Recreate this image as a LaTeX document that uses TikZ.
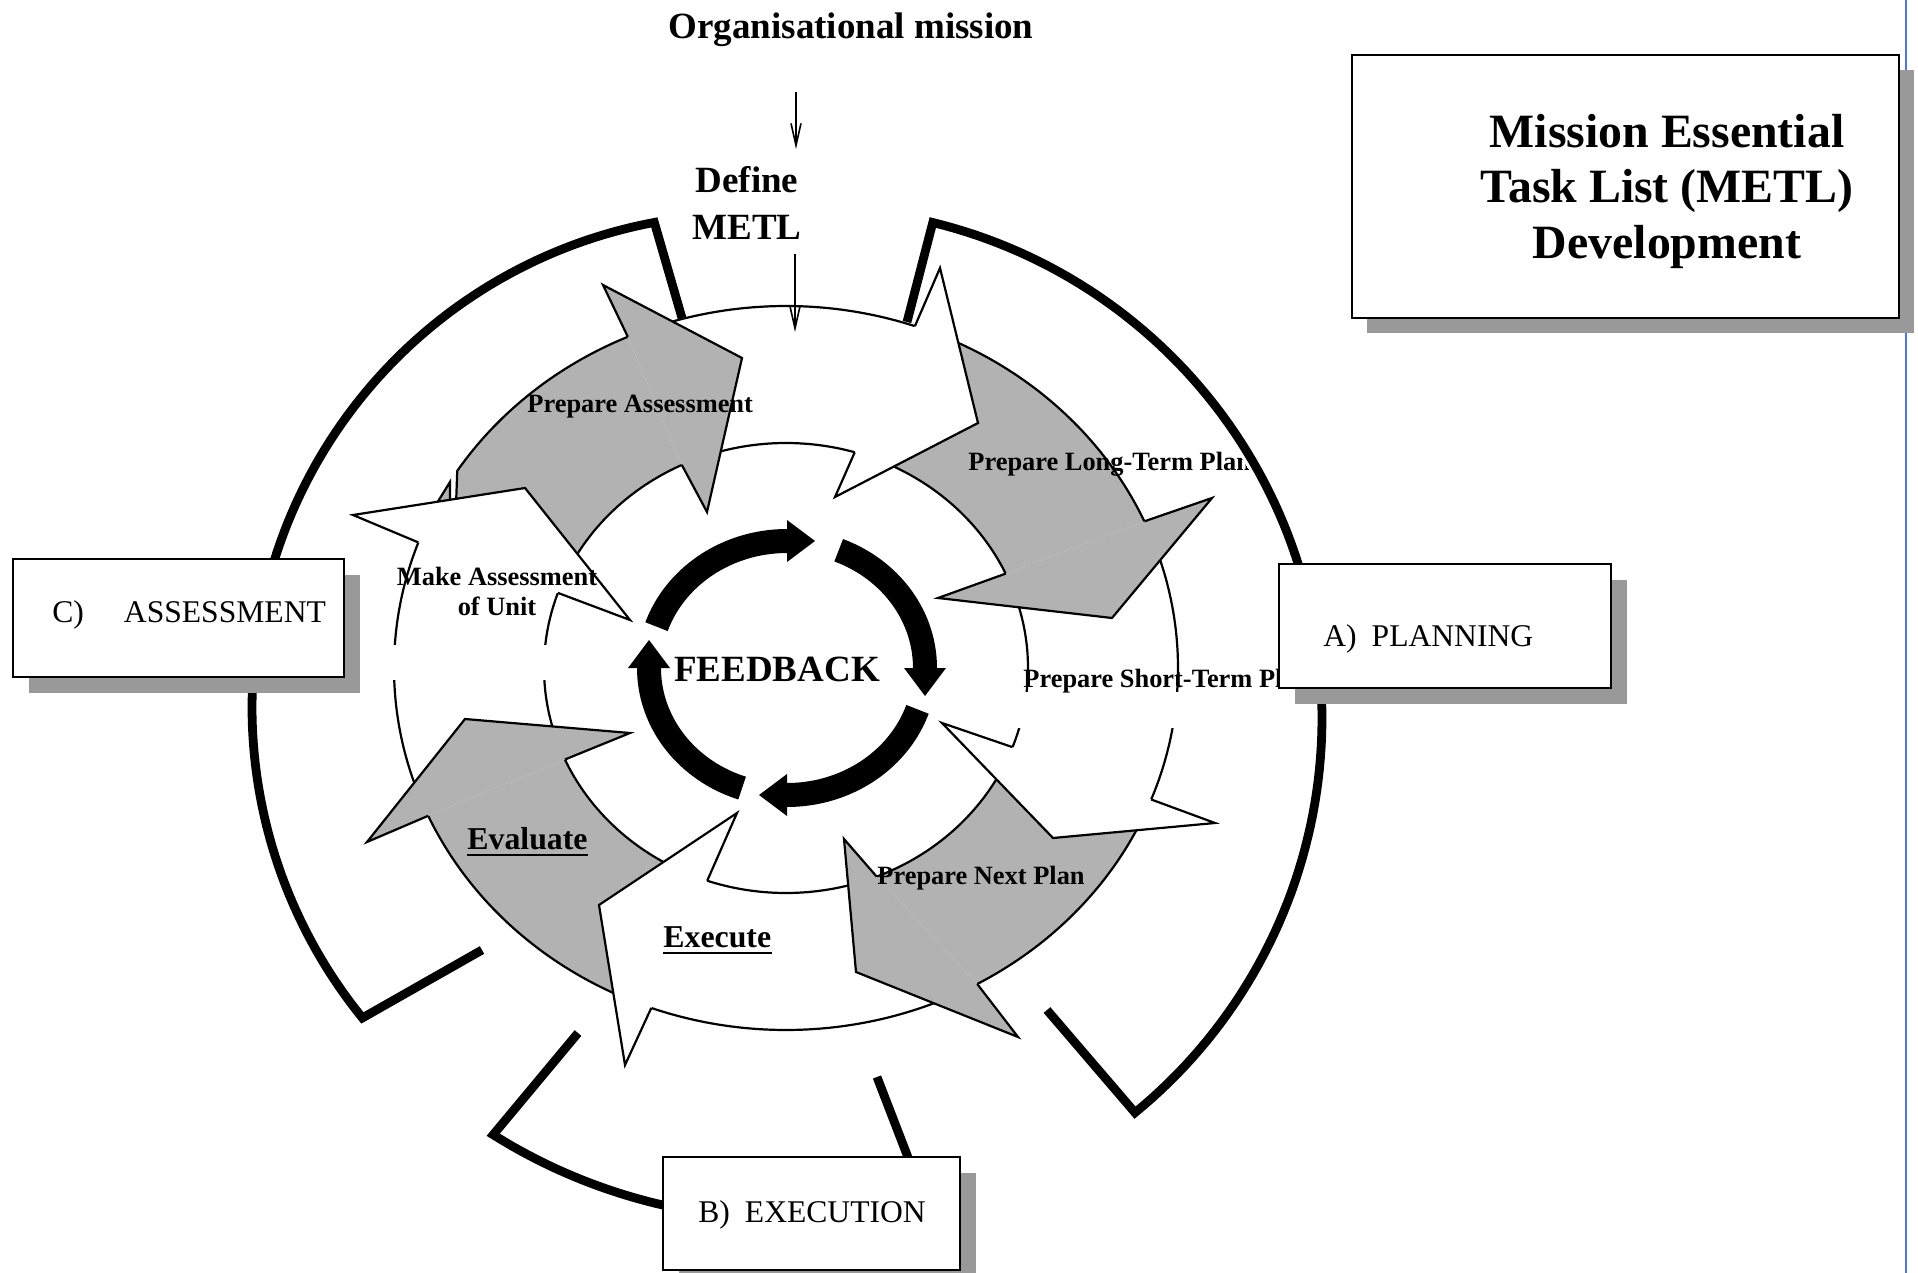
\documentclass[tikz,border=0pt]{standalone}
\usepackage{fontspec}
\setmainfont{Liberation Serif}
\usetikzlibrary{arrows.meta}
\definecolor{arrowgray}{RGB}{178,178,178}
\definecolor{shadowgray}{RGB}{153,153,153}
\definecolor{edgeblue}{RGB}{72,118,238}
\newcommand{\ellout}[2]{\coordinate (#1) at ({786+392*cos(#2)},{668-362*sin(#2)});}
\newcommand{\ellin}[2]{\coordinate (#1) at ({786+242*cos(#2)},{668-225*sin(#2)});}
% #1 fill, #2 outer tail, #3 outer base, #4 inner tail, #5 inner base, #6 extra tail path
\newcommand{\bandbody}[6]{%
  \fill[#1] plot[domain=#3:#2,samples=50] ({786+392*cos(\x)},{668-362*sin(\x)}) #6 -- plot[domain=#4:#5,samples=50] ({786+242*cos(\x)},{668-225*sin(\x)}) -- cycle;
  \draw[outline] plot[domain=#3:#2,samples=50] ({786+392*cos(\x)},{668-362*sin(\x)}) #6 -- plot[domain=#4:#5,samples=50] ({786+242*cos(\x)},{668-225*sin(\x)});
}
\newcommand{\bandhead}[6]{%
  \fill[#1] #2 -- #3 -- #4 -- #5 -- #6 -- cycle;
  \draw[outline] #2 -- #3 -- #4 -- #5 -- #6;
}
\begin{document}
\begin{tikzpicture}[x=0.5pt,y=-0.5pt,
  outline/.style={draw=black,line width=1.1pt,line join=miter,miter limit=10},
  bracket/.style={line width=4.4pt,line join=miter,miter limit=10},
  ringarc/.style={line width=12pt},
  box/.style={fill=white,draw=black,line width=1.1pt},
  taglbl/.style={inner sep=0pt,font=\fontsize{13.2pt}{15pt}\selectfont\bfseries},
  steplbl/.style={inner sep=0pt,font=\fontsize{15.9pt}{18pt}\selectfont\bfseries},
  headlbl/.style={inner sep=0pt,font=\fontsize{18.5pt}{22pt}\selectfont\bfseries},
  phaselbl/.style={inner sep=0pt,font=\fontsize{15.8pt}{18pt}\selectfont},
  titlelbl/.style={inner sep=0pt,font=\fontsize{23.9pt}{28pt}\selectfont\bfseries},
  thinarrow/.style={line width=0.8pt,-{Straight Barb[length=11pt,width=5pt]}},
]
\useasboundingbox (0,0) rectangle (1918,1273);
\fill[white] (0,0) rectangle (1918,1273);

% outer brackets
\draw[bracket] (907,322) -- plot[domain=76.3:-50.7,samples=100] ({812+510*cos(\x)},{718-510*sin(\x)}) -- (1047,1010);
\draw[bracket] (682,318) -- plot[domain=100.6:219.1,samples=100] ({745+493*cos(\x)},{707-493*sin(\x)}) -- (482,950);
\draw[bracket] (578,1033) -- plot[domain=-122.1:-75.4,samples=60] ({786+551*cos(\x)},{668-551*sin(\x)}) -- (877,1077);

% arrow bodies
\bandbody{arrowgray}{147}{113.8}{155}{115.5}{-- (456,505)}
\fill[arrowgray] (437,503) -- (450,482) -- (450,503) -- cycle;
\draw[outline] (437,503) -- (450,482) -- (450,503);
\bandbody{white}{108}{70.8}{108}{73.5}{}
\bandbody{arrowgray}{68}{23.9}{68}{24.8}{}
\bandbody{white}{20}{-21.3}{20}{-20.6}{}
\bandbody{arrowgray}{-25}{-60.8}{-25}{-68}{}
\bandbody{white}{-66}{-110.1}{-71}{-109}{}
\bandbody{arrowgray}{-113}{-155.9}{-112}{-156}{}
\bandbody{white}{-160}{-200.3}{-162}{-199.5}{}

% arrow heads
\ellout{PAob}{113.8}\ellin{PAib}{115.5}
\bandhead{arrowgray}{(PAob)}{(603,285)}{(742,358)}{(707,512)}{(PAib)}
\ellout{TWob}{70.8}\ellin{TWib}{73.5}
\bandhead{white}{(TWob)}{(940,268)}{(978,423)}{(835,497)}{(TWib)}
\ellout{LTob}{23.9}\ellin{LTib}{24.8}
\bandhead{arrowgray}{(LTob)}{(1212,498)}{(1112,618)}{(938,598)}{(LTib)}
\ellout{STob}{-21.3}\ellin{STib}{-20.6}
\bandhead{white}{(STob)}{(1215,823)}{(1053,838)}{(942,723)}{(STib)}
\ellout{NPob}{-60.8}\ellin{NPib}{-68}
\bandhead{arrowgray}{(NPob)}{(1018,1037)}{(856,972)}{(844,839)}{(NPib)}
\ellout{EXob}{-110.1}\ellin{EXib}{-109}
\bandhead{white}{(EXob)}{(625,1065)}{(599,905)}{(737,813)}{(EXib)}
\ellout{EVob}{-155.9}\ellin{EVib}{-156}
\bandhead{arrowgray}{(EVob)}{(367,842)}{(465,719)}{(630,733)}{(EVib)}
\ellout{MAob}{159.7}\ellin{MAib}{160.5}
\bandhead{white}{(MAob)}{(353,515)}{(525,488)}{(630,620)}{(MAib)}

% gaps in the side arcs
\fill[white] (380,645) rectangle (560,680);
\fill[white] (1005,692) rectangle (1190,728);

% feedback ring
\draw[ringarc] plot[domain=161:90,samples=50] ({787+138*cos(\x)},{668-127*sin(\x)});
\fill (787,520) -- (815,541) -- (787,562) -- cycle;
\draw[ringarc] plot[domain=68:0,samples=50] ({787+138*cos(\x)},{668-127*sin(\x)});
\fill (904,668) -- (925,696) -- (946,668) -- cycle;
\draw[ringarc] plot[domain=-19:-90,samples=50] ({787+138*cos(\x)},{668-127*sin(\x)});
\fill (787,774) -- (759,795) -- (787,816) -- cycle;
\draw[ringarc] plot[domain=-109:-180,samples=50] ({787+138*cos(\x)},{668-127*sin(\x)});
\fill (628,668) -- (649,640) -- (670,668) -- cycle;

% top texts and arrows
\node[headlbl,anchor=base] (orgmission) at (851,39) {Organisational mission};
\node[headlbl,anchor=base] (define) at (747,193) {Define};
\node[headlbl,anchor=base] (metl) at (747,240) {METL};
\coordinate (ar1s) at (796,92);
\coordinate (ar1e) at (796,149);
\coordinate (ar2s) at (795,254);
\coordinate (ar2e) at (795,332);
\draw[thinarrow] (ar1s) -- (ar1e);
\draw[thinarrow] (ar2s) -- (ar2e);

% arrow labels
\node[taglbl,anchor=base west] (tPA) at (527,412) {Prepare Assessment};
\begin{scope}
\clip (812,718) circle[radius=502];
\node[taglbl,anchor=base west] (tLT) at (968,470) {Prepare Long-Term Plan};
\end{scope}
\node[taglbl,anchor=base west] (tST) at (1023,687) {Prepare Short-Term Plan};
\node[taglbl,anchor=base west] (tNP) at (877,884) {Prepare Next Plan};
\node[taglbl,anchor=base] (tMA1) at (497,585) {Make Assessment};
\node[taglbl,anchor=base] (tMA2) at (497,615) {of Unit};
\node[steplbl,anchor=base west] (tEV) at (467,849) {Evaluate};
\draw[line width=1.4pt] ([yshift=-3pt]tEV.base west) -- ([yshift=-3pt]tEV.base east);
\node[steplbl,anchor=base west] (tEX) at (663,947) {Execute};
\draw[line width=1.4pt] ([yshift=-3pt]tEX.base west) -- ([yshift=-3pt]tEX.base east);
\node[headlbl,anchor=base] (feedback) at (777,681) {FEEDBACK};

% right edge line
\draw[edgeblue,line width=1pt] (1906,0) -- (1906,1273);

% title box
\fill[shadowgray] (1367,70) rectangle (1914,333);
\draw[box,line width=1.3pt] (1352,55) rectangle (1899,318);
\node[titlelbl,anchor=base] (title1) at (1667,148) {Mission Essential};
\node[titlelbl,anchor=base] (title2) at (1667,203) {Task List (METL)};
\node[titlelbl,anchor=base] (title3) at (1667,259) {Development};

% phase boxes
\fill[shadowgray] (1295,580) rectangle (1627,704);
\draw[box] (1279,564) rectangle (1611,688);
\node[phaselbl,anchor=base west] (planlbl) at (1323,646) {A)\hspace{7.5pt}PLANNING};

\fill[shadowgray] (679,1173) rectangle (976,1290);
\draw[box] (663,1157) rectangle (960,1270);
\node[phaselbl,anchor=base west] (execlbl) at (698,1222) {B)\hspace{7.5pt}EXECUTION};

\fill[shadowgray] (29,575) rectangle (360,693);
\draw[box] (13,559) rectangle (344,677);
\node[phaselbl,anchor=base west] (assesslbl) at (52,622) {C)\hspace{20pt}ASSESSMENT};
\end{tikzpicture}
\end{document}
